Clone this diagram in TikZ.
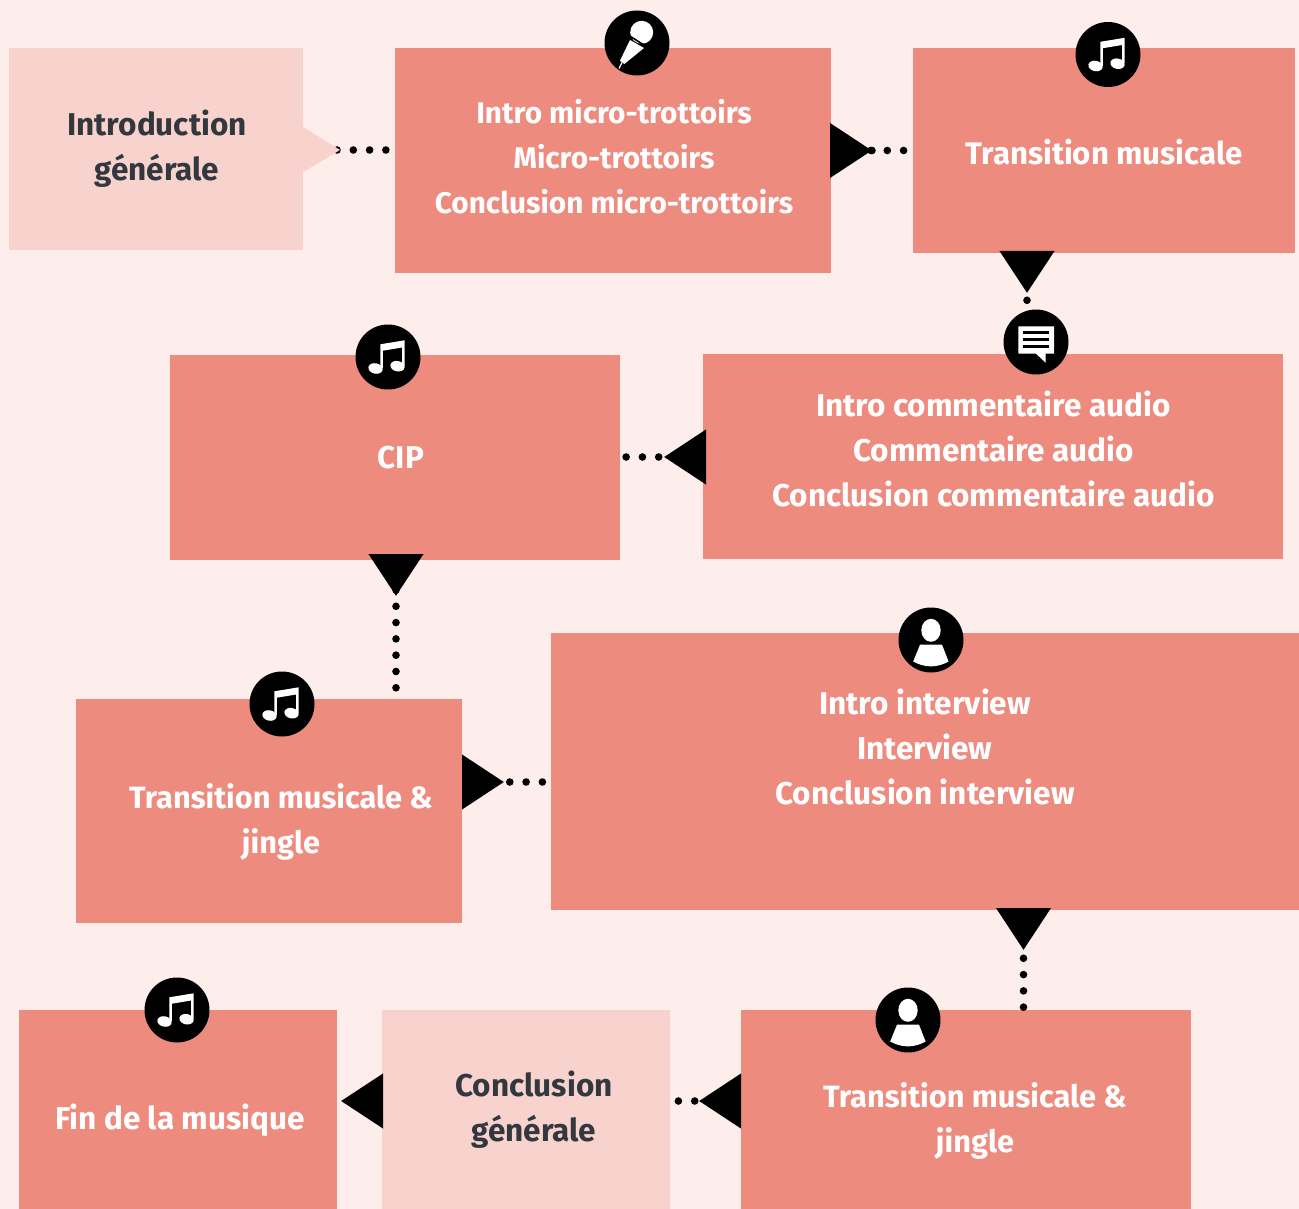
\documentclass[tikz,border=0pt]{standalone}
\usepackage{fontspec}
\setmainfont{Fira Sans}
\usetikzlibrary{arrows.meta,calc}
\definecolor{bg}{HTML}{FDEEEC}
\definecolor{boxc}{HTML}{EE8B7F}
\definecolor{lightc}{HTML}{F8D2CC}
\definecolor{darkt}{HTML}{33383F}
\tikzset{
  x=1pt,y=-1pt,
  boxn/.style={fill=boxc,draw=none,inner sep=0pt,outer sep=0pt,anchor=north west},
  softn/.style={boxn,fill=lightc},
  lab/.style={text=white,font=\fontsize{#1}{45}\selectfont\bfseries,align=center,inner sep=0pt},
  lab/.default=31.5,
  dlab/.style={lab,text=darkt},
  dotted flow/.style={black,line width=7.6pt,line cap=round,dash pattern=on 0pt off 16.3pt,dash phase=#1},
  flow/.style={dotted flow=#1,{Triangle[reversed,length=42pt,width=53pt]}-},
  music/.pic={
    \fill[black] (0,0) circle[radius=32.5];
    \fill[white] (-7.7,-12.7) -- (16.7,-16.7) -- (16.7,9) -- (14.2,9) -- (14.2,-9.5) -- (-5.2,-6.3) -- (-5.2,11.3) -- (-7.7,11.3) -- cycle;
    \fill[white,rotate around={-12:(-12.5,11.5)}] (-12.5,11.5) ellipse[x radius=7.2,y radius=5.2];
    \fill[white,rotate around={-12:(9.5,9.2)}] (9.5,9.2) ellipse[x radius=7.2,y radius=5.2];
  },
  micn/.pic={
    \fill[black] (0,0) circle[radius=32.5];
    \fill[white] (4.7,-10.7) circle[radius=11.5];
    \fill[white] (-7,-3) -- (7,5) -- (-12.7,21) -- (-17,17.7) -- cycle;
    \draw[white,line width=1.3pt] (-15,19.5) -- (-18,25.5);
    \draw[black,line width=1.6pt] (-6.5,-6.5) -- (8.5,3);
  },
  chat/.pic={
    \fill[black] (0,0) circle[radius=32.5];
    \fill[white] (-17.7,-15.7) -- (18,-15.7) -- (18,11.7) -- (9.7,11.7) -- (9.7,20.8) -- (0,11.7) -- (-17.7,11.7) -- cycle;
    \foreach \yy in {-9.3,-2.7,4.3} \draw[black,line width=2.8pt] (-13.3,\yy) -- (13.3,\yy);
  },
  person/.pic={
    \fill[black] (0,0) circle[radius=32.5];
    \fill[white] (0,-9.7) ellipse[x radius=9.7,y radius=11.5];
    \fill[white] (-11,4.7) -- (11,4.7) -- (17.6,21.5) .. controls (6,28) and (-6,28) .. (-17.8,21.5) -- cycle;
  },
}
\begin{document}
\begin{tikzpicture}
\useasboundingbox (0,0) rectangle (1299,1209);
\fill[bg] (0,0) rectangle (1299,1209);
% boxes
\node[softn,minimum width=294pt,minimum height=202pt] (intro) at (9,48) {};
\node[boxn,minimum width=436pt,minimum height=225pt] (micro) at (395,48) {};
\node[boxn,minimum width=382pt,minimum height=205pt] (trans) at (913,48) {};
\node[boxn,minimum width=580pt,minimum height=205pt] (comm) at (703,354) {};
\node[boxn,minimum width=450pt,minimum height=205pt] (cip) at (170,355) {};
\node[boxn,minimum width=748pt,minimum height=277pt] (inter) at (551,633) {};
\node[boxn,minimum width=386pt,minimum height=224pt] (transb) at (76,699) {};
\node[boxn,minimum width=450pt,minimum height=199pt] (transc) at (741,1010) {};
\node[softn,minimum width=288pt,minimum height=199pt] (concl) at (382,1010) {};
\node[boxn,minimum width=318pt,minimum height=199pt] (fin) at (19,1010) {};
% connectors
\draw[dotted flow=0,shorten <=34pt] (intro.east |- 0,150) -- (micro.west |- 0,150);
\fill[lightc] (intro.east |- 0,127) -- (340,150) -- (intro.east |- 0,172) -- cycle;
\draw[flow=8.3,shorten <=-1pt] (micro.east |- 0,150.5) -- (trans.west |- 0,150.5);
\draw[dotted flow=0,shorten <=41pt,shorten >=36pt] (micro.east |- 0,150.5) -- (trans.west |- 0,150.5);
\draw[flow=16.3,shorten <=-2pt] (trans.south -| 1027,0) -- (comm.north -| 1027,0);
\draw[flow=18.3,shorten <=-3pt] (comm.west |- 0,457) -- (cip.east |- 0,457);
\draw[flow=13.3,shorten <=-6pt] (cip.south -| 396,0) -- (transb.north -| 396,0);
\draw[flow=17.8] (transb.east |- 0,782) -- (inter.west |- 0,782);
\draw[flow=15.3,shorten <=-2pt] (inter.south -| 1023.5,0) -- (transc.north -| 1023.5,0);
\draw[flow=3] (transc.west |- 0,1101) -- (concl.east |- 0,1101);
\draw[flow=50,dash pattern=on 0pt off 200pt,dash phase=50,shorten <=-1pt] (concl.west |- 0,1101) -- (fin.east |- 0,1101);
% text
\node[dlab] (tintro) at (157,149) {Introduction\\générale};
\node[lab=29.8] (tmicro) at (614,157) {Intro micro-trottoirs\\Micro-trottoirs\\Conclusion micro-trottoirs};
\node[lab=31.2] (ttrans) at (1104,152) {Transition musicale};
\node[lab] (tcomm) at (993.5,449) {Intro commentaire audio\\Commentaire audio\\Conclusion commentaire audio};
\node[lab] (tcip) at (401,458) {CIP};
\node[lab] (tinter) at (925,747) {Intro interview\\Interview\\Conclusion interview};
\node[lab=30.8] (ttransb) at (281,822) {Transition musicale \&\\jingle};
\node[lab=30.8] (ttransc) at (975,1121) {Transition musicale \&\\jingle};
\node[dlab] (tconcl) at (534,1110) {Conclusion\\générale};
\node[lab] (tfin) at (180,1120) {Fin de la musique};
% icons
\pic at (637,43) {micn};
\pic at (1108,54.5) {music};
\pic at (1036,342) {chat};
\pic at (388,357) {music};
\pic at (931,640) {person};
\pic at (282,704) {music};
\pic at (908,1020) {person};
\pic at (177,1010) {music};
\end{tikzpicture}
\end{document}
